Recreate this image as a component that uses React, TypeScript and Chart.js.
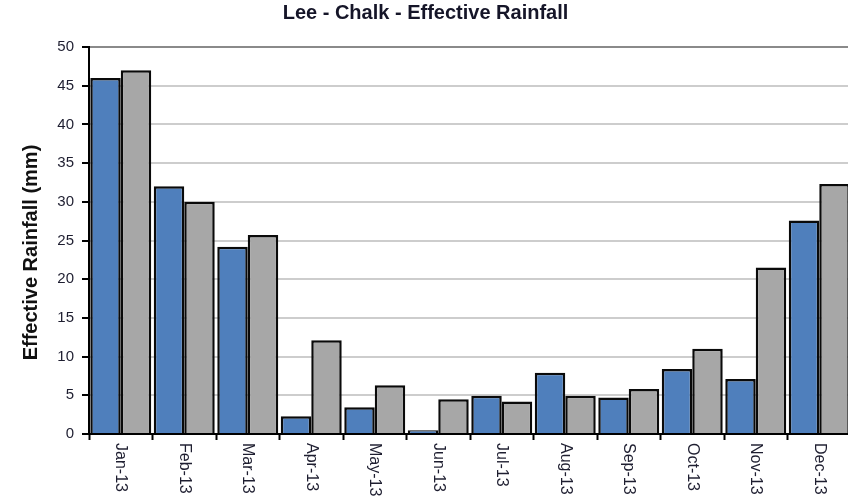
import React, { useEffect, useRef } from "react";
import { Chart, registerables } from "chart.js";

Chart.register(...registerables);

const categories = ["Jan-13", "Feb-13", "Mar-13", "Apr-13", "May-13", "Jun-13", "Jul-13", "Aug-13", "Sep-13", "Oct-13", "Nov-13", "Dec-13"];
const seriesBlue = [46.0, 32.0, 24.2, 2.3, 3.45, 0.5, 4.95, 7.9, 4.7, 8.4, 7.1, 27.6];
const seriesGrey = [47.0, 30.0, 25.7, 12.1, 6.3, 4.5, 4.2, 4.95, 5.8, 11.0, 21.5, 32.3];
const titleText = "Lee - Chalk - Effective Rainfall";
const yTitleText = "Effective Rainfall (mm)";
const yMin = 0;
const yMax = 50;
const yStep = 5;

const FONT = "'Liberation Sans', Arial, sans-serif";

export default function App() {
  const ref = useRef<HTMLCanvasElement | null>(null);

  useEffect(() => {
    if (!ref.current) return;
    const labelPlugin = {
      id: "customLabels",
      afterDraw(chart: any) {
        const ctx = chart.ctx;
        const xs = chart.scales.x;
        const area = chart.chartArea;
        ctx.save();
        ctx.fillStyle = "#1e1e30";
        ctx.font = `16px ${FONT}`;
        ctx.textAlign = "left";
        ctx.textBaseline = "middle";
        categories.forEach((lab, i) => {
          const x = xs.getPixelForTick(i);
          ctx.save();
          ctx.translate(x, area.bottom + 9);
          ctx.rotate(Math.PI / 2);
          ctx.fillText(lab, 0, 0);
          ctx.restore();
        });
        ctx.save();
        ctx.fillStyle = "#111";
        ctx.font = `bold 20px ${FONT}`;
        ctx.textAlign = "center";
        ctx.textBaseline = "middle";
        ctx.translate(31, (area.top + area.bottom) / 2 + 12);
        ctx.rotate(-Math.PI / 2);
        ctx.fillText(yTitleText, 0, 0);
        ctx.restore();
        ctx.restore();
      },
    };

    const chart = new Chart(ref.current, {
      type: "bar",
      data: {
        labels: categories,
        datasets: [
          {
            label: "Series 1",
            data: seriesBlue,
            backgroundColor: "#4f7fbc",
            borderColor: "#0a0a0a",
            borderWidth: 2.5,
            categoryPercentage: 0.96,
            barPercentage: 1.0,
          },
          {
            label: "Series 2",
            data: seriesGrey,
            backgroundColor: "#a7a7a7",
            borderColor: "#0a0a0a",
            borderWidth: 2.5,
            categoryPercentage: 0.96,
            barPercentage: 1.0,
          },
        ],
      },
      options: {
        animation: false,
        responsive: false,
        devicePixelRatio: 1,
        layout: { padding: { left: 0, right: 45, top: 0, bottom: 0 } },
        plugins: {
          legend: { display: false },
          tooltip: { enabled: false },
          title: {
            display: true,
            text: titleText,
            color: "#151528",
            font: { family: FONT, size: 20, weight: "bold", lineHeight: 1.2 },
            padding: { top: 1, bottom: 22 },
          },
        },
        scales: {
          x: {
            offset: true,
            grid: {
              display: true,
              drawOnChartArea: false,
              drawTicks: true,
              tickLength: 6,
              tickColor: "#000",
              tickWidth: 2,
              offset: true,
            },
            border: { display: true, color: "#000", width: 2 },
            ticks: { display: false },
            afterFit(scale: any) {
              scale.height = 67;
            },
          },
          y: {
            min: yMin,
            max: yMax,
            ticks: {
              stepSize: yStep,
              color: "#1e1e30",
              font: { family: FONT, size: 15 },
              padding: 8,
            },
            grid: {
              color: (c: any) => (c.tick && c.tick.value === yMax ? "#8a8a8a" : "#cdcdcd"),
              lineWidth: 2,
              drawTicks: true,
              tickLength: 7,
              tickColor: "#000",
              tickWidth: 2,
            },
            border: { display: true, color: "#000", width: 2 },
            afterFit(scale: any) {
              scale.width = 89;
            },
          },
        },
      },
      plugins: [labelPlugin],
    } as any);
    return () => chart.destroy();
  }, []);

  return (
    <div style={{ position: "fixed", left: 0, top: 0, width: 848, height: 501, overflow: "hidden", background: "#fff" }}>
      <canvas ref={ref} width={896} height={501} style={{ position: "absolute", left: 0, top: 0, width: 896, height: 501 }} />
    </div>
  );
}
